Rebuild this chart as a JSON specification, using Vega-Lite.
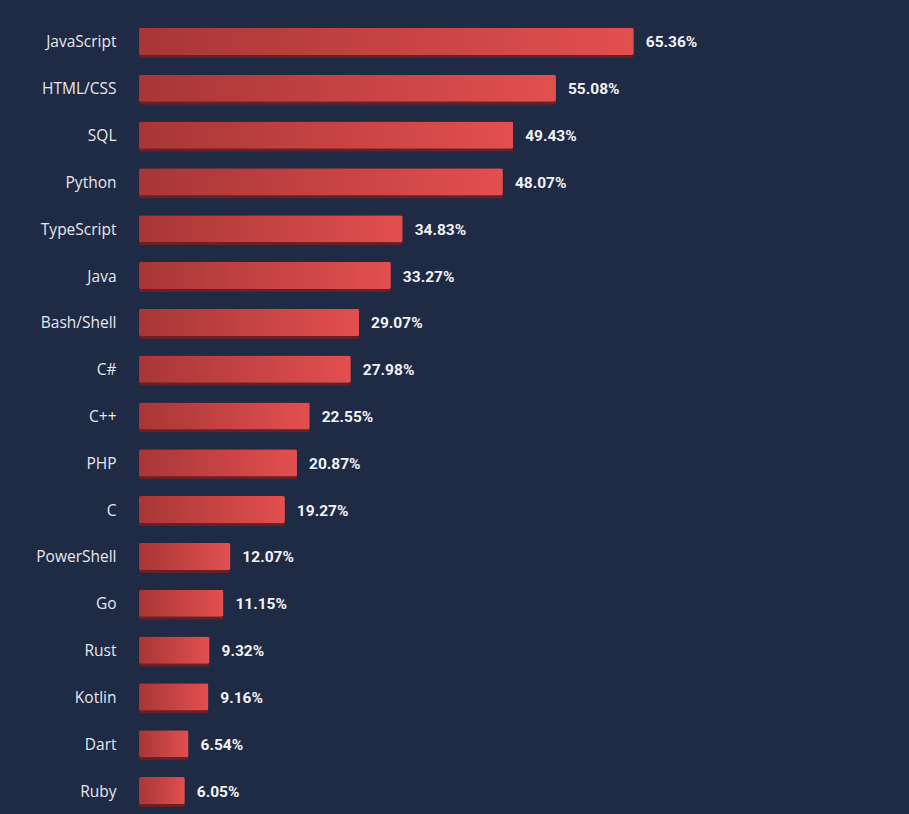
{
  "$schema": "https://vega.github.io/schema/vega-lite/v6.json",
  "autosize": "none",
  "width": 757,
  "height": 796,
  "padding": {"left": 139, "top": 18, "right": 13, "bottom": 0},
  "background": "#1f2a44",
  "config": {"view": {"stroke": null}},
  "data": {"values": [
    {"lang": "JavaScript", "pct": 65.36, "label": "65.36%"},
    {"lang": "HTML/CSS", "pct": 55.08, "label": "55.08%"},
    {"lang": "SQL", "pct": 49.43, "label": "49.43%"},
    {"lang": "Python", "pct": 48.07, "label": "48.07%"},
    {"lang": "TypeScript", "pct": 34.83, "label": "34.83%"},
    {"lang": "Java", "pct": 33.27, "label": "33.27%"},
    {"lang": "Bash/Shell", "pct": 29.07, "label": "29.07%"},
    {"lang": "C#", "pct": 27.98, "label": "27.98%"},
    {"lang": "C++", "pct": 22.55, "label": "22.55%"},
    {"lang": "PHP", "pct": 20.87, "label": "20.87%"},
    {"lang": "C", "pct": 19.27, "label": "19.27%"},
    {"lang": "PowerShell", "pct": 12.07, "label": "12.07%"},
    {"lang": "Go", "pct": 11.15, "label": "11.15%"},
    {"lang": "Rust", "pct": 9.32, "label": "9.32%"},
    {"lang": "Kotlin", "pct": 9.16, "label": "9.16%"},
    {"lang": "Dart", "pct": 6.54, "label": "6.54%"},
    {"lang": "Ruby", "pct": 6.05, "label": "6.05%"}
  ]},
  "encoding": {
    "y": {"field": "lang", "type": "nominal", "sort": null,
      "scale": {"paddingInner": 0.42, "paddingOuter": 0.21},
      "axis": {"title": null, "domain": false, "ticks": false, "labelPadding": 23, "labelOffset": 1,
        "labelFont": "Open Sans", "labelFontSize": 15.5, "labelColor": "#e6e8ee"}},
    "x": {"field": "pct", "type": "quantitative",
      "scale": {"domain": [0, 100], "nice": false},
      "axis": null}
  },
  "layer": [
    {"mark": {"type": "bar", "color": "#6e1e22", "cornerRadius": 2, "yOffset": 3}},
    {"mark": {"type": "bar", "cornerRadius": 2,
      "color": {"gradient": "linear", "x1": 0, "y1": 0, "x2": 1, "y2": 0,
        "stops": [{"offset": 0, "color": "#a83636"}, {"offset": 1, "color": "#e24f4f"}]}}},
    {"mark": {"type": "text", "align": "left", "baseline": "middle", "dx": 12, "dy": 1,
      "font": "Roboto", "fontWeight": "bold", "fontSize": 15.5, "color": "#f2f2f4"},
     "encoding": {"text": {"field": "label", "type": "nominal"}}}
  ]
}
